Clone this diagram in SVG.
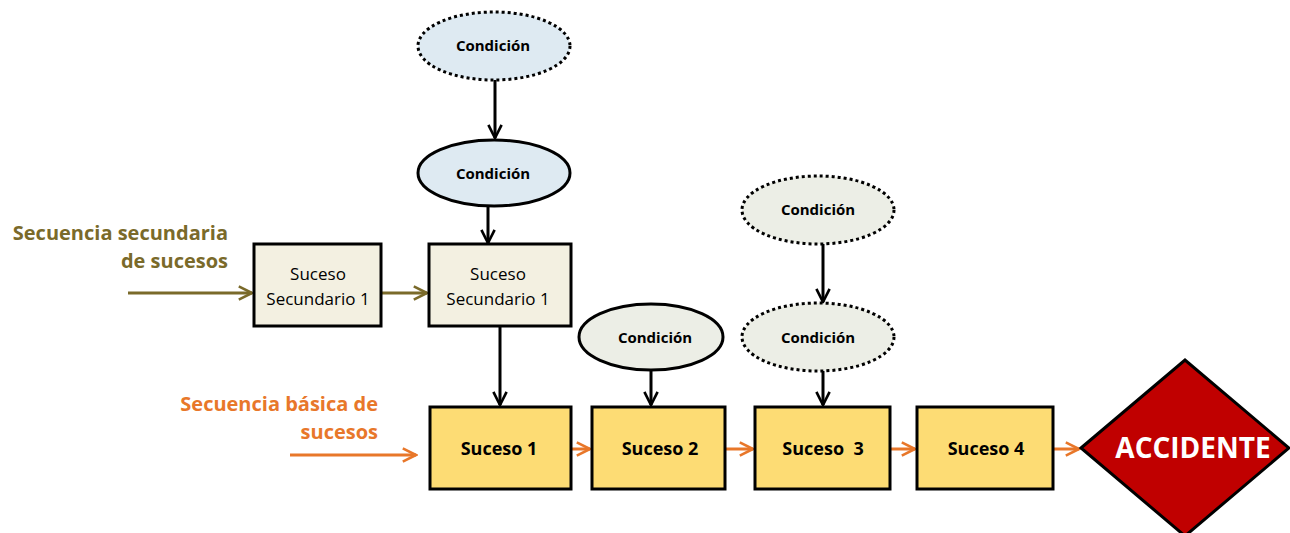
<svg xmlns="http://www.w3.org/2000/svg" width="1290" height="533" viewBox="0 0 1290 533">
<defs>
<style>
text{font-family:"Open Sans","Liberation Sans",sans-serif;}
.box{stroke:#000;stroke-width:3;}
.sec{fill:#F3F0E1;}
.bas{fill:#FDDC74;}
.ell{stroke:#000;stroke-width:3;}
.dot{stroke-dasharray:3 3;}
.blue{fill:#DEEAF2;}
.grey{fill:#ECEEE6;}
.lbl{font-size:17px;text-anchor:middle;fill:#000;}
.cond{font-size:15px;font-weight:bold;text-anchor:middle;fill:#000;}
.bl{font-size:18px;font-weight:bold;text-anchor:middle;fill:#000;}
.blk{stroke:#000;stroke-width:3;fill:none;}
.olv{stroke:#7A6A2A;stroke-width:3;fill:none;}
.org{stroke:#E8772A;stroke-width:3;fill:none;}
</style>
<marker id="ab" viewBox="0 0 10 10" refX="9" refY="5" markerWidth="5.5" markerHeight="5.5" orient="auto" markerUnits="strokeWidth"><path d="M1,1 L9,5 L1,9" fill="none" stroke="#000" stroke-width="1.6"/></marker>
<marker id="ao" viewBox="0 0 10 10" refX="9" refY="5" markerWidth="5.5" markerHeight="5.5" orient="auto" markerUnits="strokeWidth"><path d="M1,1 L9,5 L1,9" fill="none" stroke="#E8772A" stroke-width="1.6"/></marker>
<marker id="av" viewBox="0 0 10 10" refX="9" refY="5" markerWidth="5.5" markerHeight="5.5" orient="auto" markerUnits="strokeWidth"><path d="M1,1 L9,5 L1,9" fill="none" stroke="#7A6A2A" stroke-width="1.6"/></marker>
</defs>
<rect width="1290" height="533" fill="#fff"/>

<g id="label-secundaria" font-weight="bold" font-size="20" fill="#7A6A2A" text-anchor="end">
<text x="228" y="240">Secuencia secundaria</text>
<text x="228" y="268">de sucesos</text>
</g>
<g id="label-basica" font-weight="bold" font-size="20" fill="#E8772A" text-anchor="end">
<text x="378" y="411">Secuencia básica de</text>
<text x="378" y="439">sucesos</text>
</g>

<g id="connectors">
<line class="olv" x1="128" y1="293" x2="252" y2="293" marker-end="url(#av)"/>
<line class="olv" x1="382" y1="293" x2="427" y2="293" marker-end="url(#av)"/>
<line class="blk" x1="495" y1="80" x2="495" y2="138" marker-end="url(#ab)"/>
<line class="blk" x1="488" y1="207" x2="488" y2="243" marker-end="url(#ab)"/>
<line class="blk" x1="500" y1="327" x2="500" y2="405" marker-end="url(#ab)"/>
<line class="blk" x1="651" y1="370" x2="651" y2="405" marker-end="url(#ab)"/>
<line class="blk" x1="823" y1="244" x2="823" y2="302" marker-end="url(#ab)"/>
<line class="blk" x1="823" y1="371" x2="823" y2="405" marker-end="url(#ab)"/>
<line class="org" x1="290" y1="455" x2="416" y2="455" marker-end="url(#ao)"/>
<line class="org" x1="572" y1="449" x2="590" y2="449" marker-end="url(#ao)"/>
<line class="org" x1="726" y1="449" x2="753" y2="449" marker-end="url(#ao)"/>
<line class="org" x1="891" y1="449" x2="915" y2="449" marker-end="url(#ao)"/>
<line class="org" x1="1054" y1="449" x2="1079" y2="449" marker-end="url(#ao)"/>
</g>

<g id="cond-top">
<ellipse class="ell dot blue" cx="494" cy="46" rx="76" ry="34"/>
<text class="cond" x="493" y="51">Condición</text>
</g>
<g id="cond-mid">
<ellipse class="ell blue" cx="494" cy="173" rx="76" ry="33"/>
<text class="cond" x="493" y="179">Condición</text>
</g>
<g id="cond-s2">
<ellipse class="ell grey" cx="651" cy="337" rx="72" ry="33"/>
<text class="cond" x="655" y="343">Condición</text>
</g>
<g id="cond-s3-top">
<ellipse class="ell dot grey" cx="818" cy="210" rx="76" ry="34"/>
<text class="cond" x="818" y="215">Condición</text>
</g>
<g id="cond-s3">
<ellipse class="ell dot grey" cx="818" cy="337" rx="76" ry="34"/>
<text class="cond" x="818" y="343">Condición</text>
</g>

<g id="sec1">
<rect class="box sec" x="254" y="244" width="127" height="82"/>
<text class="lbl" x="318" y="280">Suceso</text>
<text class="lbl" x="318" y="305">Secundario 1</text>
</g>
<g id="sec2">
<rect class="box sec" x="429" y="244" width="142" height="82"/>
<text class="lbl" x="498" y="280">Suceso</text>
<text class="lbl" x="498" y="305">Secundario 1</text>
</g>

<g id="s1">
<rect class="box bas" x="430" y="407" width="141" height="82"/>
<text class="bl" x="499" y="455">Suceso 1</text>
</g>
<g id="s2">
<rect class="box bas" x="592" y="407" width="133" height="82"/>
<text class="bl" x="660" y="455">Suceso 2</text>
</g>
<g id="s3">
<rect class="box bas" x="755" y="407" width="135" height="82"/>
<text class="bl" x="823" y="455" xml:space="preserve">Suceso  3</text>
</g>
<g id="s4">
<rect class="box bas" x="917" y="407" width="136" height="82"/>
<text class="bl" x="986" y="455">Suceso 4</text>
</g>

<g id="accidente">
<polygon points="1081,448 1185,360 1289,448 1185,536" fill="#C00000" stroke="#000" stroke-width="3"/>
<text x="1193" y="458" font-size="28" font-weight="bold" fill="#fff" text-anchor="middle">ACCIDENTE</text>
</g>
</svg>
